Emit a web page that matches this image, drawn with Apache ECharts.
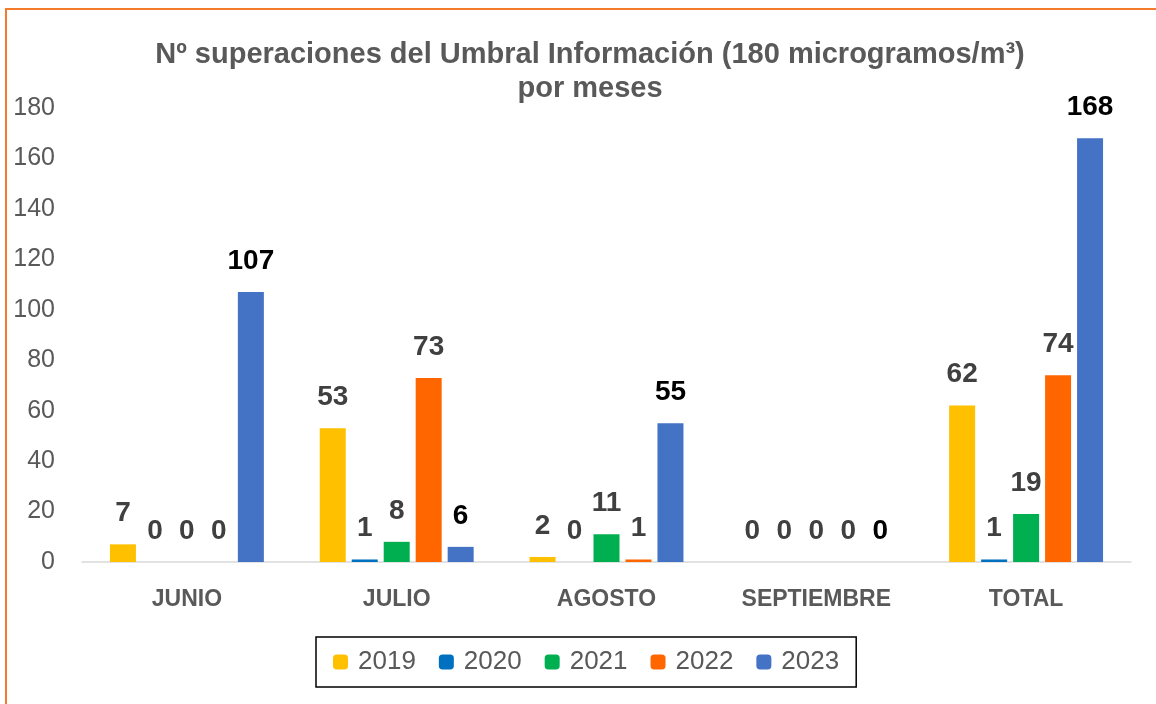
<!DOCTYPE html>
<html>
<head>
<meta charset="utf-8">
<script src="https://cdn.jsdelivr.net/npm/echarts@6/dist/echarts.min.js"></script>
<style>
  html, body { margin: 0; padding: 0; background: #fff; overflow: hidden; }
  #frame { position: absolute; left: 5px; top: 8px; width: 1300px; height: 900px; border: 2px solid #F47A2C; }
  #chart { position: absolute; left: 0; top: 0; width: 1156px; height: 704px; }
</style>
</head>
<body>
<div id="frame"></div>
<div id="chart"></div>
<script>
// datos por mes
const categories = ['JUNIO', 'JULIO', 'AGOSTO', 'SEPTIEMBRE', 'TOTAL'];
const years = ['2019', '2020', '2021', '2022', '2023'];
const s2019 = [7, 53, 2, 0, 62];
const s2020 = [0, 1, 0, 0, 1];
const s2021 = [0, 8, 11, 0, 19];
const s2022 = [0, 73, 1, 0, 74];
const s2023 = [107, 6, 55, 0, 168];

const seriesData = [s2019, s2020, s2021, s2022, s2023];
const colors = ['#FFC000', '#0070C0', '#00B050', '#FF6600', '#4472C4'];
const font = "'Liberation Sans', Arial, sans-serif";

const chart = echarts.init(document.getElementById('chart'));
const option = {
  animation: false,
  textStyle: { fontFamily: font },
  title: {
    text: 'Nº superaciones del Umbral Información (180 microgramos/m³)\npor meses',
    left: 585,
    top: 33,
    textAlign: 'center',
    textStyle: { fontSize: 29, fontWeight: 'bold', color: '#595959', lineHeight: 34, fontFamily: font }
  },
  legend: {
    data: years,
    left: 316,
    top: 637,
    padding: [12, 17],
    itemWidth: 15,
    itemHeight: 15,
    itemGap: 23,
    borderColor: '#000',
    borderWidth: 1.5,
    textStyle: { fontSize: 26, color: '#595959', padding: [0, 0, 0, 5], fontFamily: font }
  },
  grid: { left: 82, right: 25, top: 108, bottom: 142 },
  xAxis: {
    type: 'category',
    data: categories,
    axisLine: { lineStyle: { color: '#D9D9D9', width: 1.5 } },
    axisTick: { show: false },
    axisLabel: { fontSize: 23, fontWeight: 'bold', color: '#595959', margin: 26, fontFamily: font }
  },
  yAxis: {
    type: 'value',
    min: 0,
    max: 180,
    interval: 20,
    splitLine: { show: false },
    axisLine: { show: false },
    axisTick: { show: false },
    axisLabel: { fontSize: 25, color: '#595959', margin: 27, fontFamily: font }
  },
  series: years.map((y, i) => ({
    name: y,
    type: 'bar',
    data: seriesData[i],
    barWidth: 26,
    barGap: '23%',
    itemStyle: { color: colors[i] },
    label: {
      show: true,
      position: 'top',
      distance: 17,
      fontSize: 28,
      fontWeight: 'bold',
      color: i === 4 ? '#000000' : '#404040',
      fontFamily: font
    }
  }))
};
chart.setOption(option);
</script>
</body>
</html>
